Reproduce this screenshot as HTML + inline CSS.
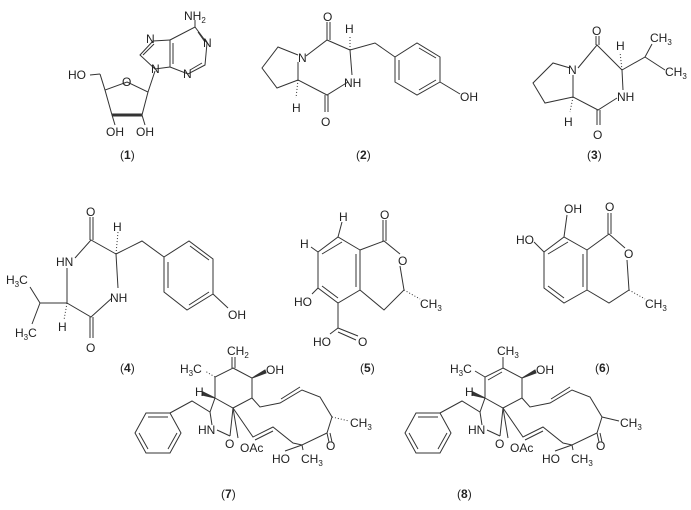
<!DOCTYPE html>
<html><head><meta charset="utf-8"><style>
html,body{margin:0;padding:0;background:#fff}
svg{display:block}
text{font-family:"Liberation Sans",sans-serif;font-size:12px;fill:#222}
.s{font-size:8px}
line,polyline,polygon{stroke:#333;stroke-width:1;fill:none}
</style></head><body>
<svg width="691" height="510" viewBox="0 0 691 510">
<!-- Compound 1 -->
<g>
<polygon points="170,40 195,27 207,43 205,65 188,74 170,67"/>
<line x1="173" y1="43" x2="173" y2="64"/><line x1="198" y1="32" x2="205" y2="42"/><line x1="190" y1="70" x2="202" y2="63"/>
<polyline points="170,40 153,41 140,55 155,69 170,67"/><line x1="143" y1="55" x2="154" y2="44"/>
<line x1="195" y1="27" x2="195" y2="20"/>
<polygon points="127,82 148,92 142,115 112,115 105,90"/>
<line x1="148" y1="92" x2="155" y2="71"/>
<line x1="142" y1="115" x2="112" y2="115" style="stroke-width:3"/>
<line x1="105" y1="90" x2="100" y2="74"/><line x1="100" y1="74" x2="90" y2="75"/>
<line x1="112" y1="115" x2="115" y2="125"/><line x1="142" y1="115" x2="145" y2="125"/>
<text x="184" y="20">NH<tspan class="s" dy="3">2</tspan></text>
<text x="146" y="43">N</text><text x="203" y="47">N</text><text x="183" y="78">N</text><text x="151" y="73">N</text>
<text x="122" y="86">O</text>
<text x="68" y="79">HO</text><text x="106" y="136">OH</text><text x="136" y="136">OH</text>
<text x="120" y="159">(<tspan font-weight="bold">1</tspan>)</text>
</g>
<!-- Compound 2 -->
<g>
<polyline points="298,80 277,88 262,68 278,47 298,55"/>
<polyline points="306,56 327,40 350,50 352,75"/>
<polyline points="348,82 327,95 298,80 298,62"/>
<line x1="327" y1="40" x2="327" y2="22"/><line x1="330" y1="40" x2="330" y2="22"/>
<line x1="325" y1="95" x2="325" y2="112"/><line x1="328" y1="95" x2="328" y2="112"/>
<line x1="298" y1="80" x2="296" y2="98" stroke-dasharray="1,2"/><line x1="350" y1="50" x2="350" y2="35" stroke-dasharray="1,2"/>
<polyline points="350,50 375,43 395,57"/>
<polygon points="395,57 395,82 417,95 440,82 440,57 417,43"/>
<line x1="399" y1="60" x2="399" y2="80"/><line x1="419" y1="90" x2="436" y2="80"/><line x1="419" y1="48" x2="436" y2="58"/>
<line x1="440" y1="82" x2="460" y2="94"/>
<text x="323" y="21">O</text><text x="298" y="62">N</text><text x="292" y="112">H</text><text x="345" y="33">H</text>
<text x="344" y="87">NH</text><text x="321" y="126">O</text><text x="460" y="101">OH</text>
<text x="356" y="159">(<tspan font-weight="bold">2</tspan>)</text>
</g>
<!-- Compound 3 -->
<g>
<polyline points="573,97 545,103 533,83 553,63 570,68"/>
<polyline points="578,68 597,45 622,70 623,90"/>
<polyline points="617,98 598,110 573,97 573,75"/>
<line x1="596" y1="45" x2="596" y2="36"/><line x1="599" y1="45" x2="599" y2="36"/>
<line x1="597" y1="110" x2="597" y2="125"/><line x1="600" y1="110" x2="600" y2="125"/>
<line x1="573" y1="97" x2="570" y2="112" stroke-dasharray="1,2"/><line x1="622" y1="70" x2="620" y2="52" stroke-dasharray="1,2"/>
<polyline points="622,70 645,57 652,44"/><line x1="645" y1="57" x2="665" y2="70"/>
<text x="592" y="35">O</text><text x="568" y="74">N</text><text x="564" y="126">H</text><text x="616" y="50">H</text>
<text x="650" y="42">CH<tspan class="s" dy="3">3</tspan></text><text x="665" y="76">CH<tspan class="s" dy="3">3</tspan></text>
<text x="617" y="101">NH</text><text x="593" y="139">O</text>
<text x="587" y="159">(<tspan font-weight="bold">3</tspan>)</text>
</g>
<!-- Compound 4 -->
<g>
<polyline points="75,258 91,240 116,254 118,288"/>
<polyline points="112,298 91,317 67,303 67,268"/>
<line x1="90" y1="240" x2="90" y2="217"/><line x1="93" y1="240" x2="93" y2="217"/>
<line x1="90" y1="317" x2="90" y2="338"/><line x1="93" y1="317" x2="93" y2="338"/>
<line x1="116" y1="254" x2="118" y2="232" stroke-dasharray="1,2"/><line x1="67" y1="303" x2="64" y2="320" stroke-dasharray="1,2"/>
<polyline points="116,254 142,241 164,257"/>
<polygon points="164,257 164,292 187,310 213,294 213,259 189,241"/>
<line x1="168" y1="262" x2="168" y2="288"/><line x1="189" y1="305" x2="209" y2="292"/><line x1="190" y1="246" x2="209" y2="260"/>
<line x1="213" y1="294" x2="228" y2="308"/>
<polyline points="67,303 40,303 30,287"/><line x1="40" y1="303" x2="32" y2="324"/>
<text x="86" y="216">O</text><text x="56" y="266">HN</text><text x="113" y="231">H</text><text x="110" y="302">NH</text>
<text x="86" y="352">O</text><text x="58" y="331">H</text><text x="228" y="319">OH</text>
<text x="6" y="284">H<tspan class="s" dy="3">3</tspan><tspan dy="-3">C</tspan></text>
<text x="15" y="337">H<tspan class="s" dy="3">3</tspan><tspan dy="-3">C</tspan></text>
<text x="120" y="372">(<tspan font-weight="bold">4</tspan>)</text>
</g>
<!-- Compound 5 -->
<g>
<polygon points="360,250 338,237 318,252 318,288 338,303 360,290"/>
<line x1="342" y1="242" x2="322" y2="254"/><line x1="322" y1="286" x2="338" y2="298"/><line x1="356" y1="254" x2="356" y2="287"/>
<polyline points="360,250 384,241 400,254"/><polyline points="400,266 404,290 384,310 360,290"/>
<line x1="383" y1="241" x2="383" y2="220"/><line x1="386" y1="241" x2="386" y2="220"/>
<line x1="404" y1="290" x2="420" y2="299" stroke-dasharray="1,2"/>
<line x1="338" y1="237" x2="342" y2="222"/><line x1="318" y1="252" x2="311" y2="247"/><line x1="318" y1="288" x2="312" y2="294"/>
<line x1="338" y1="303" x2="338" y2="328"/><line x1="338" y1="328" x2="330" y2="334"/><line x1="338" y1="328" x2="358" y2="336"/><line x1="338" y1="332" x2="356" y2="340"/>
<text x="339" y="221">H</text><text x="300" y="248">H</text><text x="380" y="219">O</text><text x="398" y="265">O</text>
<text x="420" y="308">CH<tspan class="s" dy="3">3</tspan></text><text x="294" y="306">HO</text>
<text x="313" y="346">HO</text><text x="358" y="346">O</text>
<text x="360" y="372">(<tspan font-weight="bold">5</tspan>)</text>
</g>
<!-- Compound 6 -->
<g>
<polygon points="587,250 564,237 544,252 544,288 564,303 587,290"/>
<line x1="568" y1="242" x2="548" y2="254"/><line x1="548" y1="286" x2="564" y2="298"/><line x1="583" y1="254" x2="583" y2="287"/>
<polyline points="587,250 609,234 625,248"/><polyline points="627,260 629,290 609,303 587,290"/>
<line x1="608" y1="234" x2="608" y2="213"/><line x1="611" y1="234" x2="611" y2="213"/>
<line x1="629" y1="290" x2="645" y2="299" stroke-dasharray="1,2"/>
<line x1="564" y1="237" x2="567" y2="215"/><line x1="544" y1="252" x2="534" y2="242"/>
<text x="564" y="213">OH</text><text x="516" y="244">HO</text><text x="605" y="211">O</text><text x="624" y="258">O</text>
<text x="645" y="308">CH<tspan class="s" dy="3">3</tspan></text>
<text x="595" y="372">(<tspan font-weight="bold">6</tspan>)</text>
</g>
<!-- Compound 7 -->
<g>
<polygon points="233,368 252,378 252,398 233,408 215,398 215,377"/>
<line x1="232" y1="368" x2="232" y2="357"/><line x1="235" y1="368" x2="235" y2="357"/>
<line x1="215" y1="377" x2="205" y2="371" stroke-dasharray="1,2"/>
<polygon points="252,378 265,370 266,373" style="fill:#333"/>
<polygon points="215,398 203,392 202,395" style="fill:#333"/>
<polyline points="215,398 210,412 192,401 170,413"/>
<line x1="210" y1="412" x2="212" y2="425"/>
<polygon points="146,413 170,413 181,433 170,453 146,453 135,433"/>
<line x1="148" y1="417" x2="168" y2="417"/><line x1="139" y1="433" x2="148" y2="449"/><line x1="177" y1="433" x2="168" y2="449"/>
<line x1="217" y1="430" x2="230" y2="436"/><line x1="230" y1="436" x2="233" y2="408"/>
<line x1="233" y1="408" x2="238" y2="438"/>
<polyline points="252,398 260,407 280,403 302,390 320,397 332,417 327,433 302,445 293,443 273,427 253,437 233,408"/>
<line x1="281" y1="399" x2="300" y2="387"/><line x1="273" y1="431" x2="255" y2="440"/>
<line x1="332" y1="417" x2="349" y2="421" stroke-dasharray="1,2"/>
<line x1="327" y1="433" x2="329" y2="442"/><line x1="330" y1="433" x2="332" y2="442"/>
<line x1="302" y1="445" x2="303" y2="450"/><line x1="302" y1="445" x2="285" y2="451"/>
<text x="227" y="355">CH<tspan class="s" dy="3">2</tspan></text>
<text x="180" y="373">H<tspan class="s" dy="3">3</tspan><tspan dy="-3">C</tspan></text>
<text x="266" y="374">OH</text><text x="195" y="396">H</text>
<text x="198" y="434">HN</text><text x="225" y="448">O</text><text x="240" y="452">OAc</text>
<text x="272" y="463">HO</text><text x="301" y="463">CH<tspan class="s" dy="3">3</tspan></text>
<text x="326" y="450">O</text><text x="350" y="427">CH<tspan class="s" dy="3">3</tspan></text>
<text x="221" y="498">(<tspan font-weight="bold">7</tspan>)</text>
</g>
<!-- Compound 8 -->
<g transform="translate(270,0)">
<polygon points="233,368 252,378 252,398 233,408 215,398 215,377"/>
<line x1="218" y1="380" x2="232" y2="372"/>
<line x1="233" y1="368" x2="233" y2="357"/>
<line x1="215" y1="377" x2="205" y2="371"/>
<polygon points="252,378 265,370 266,373" style="fill:#333"/>
<polygon points="215,398 203,392 202,395" style="fill:#333"/>
<polyline points="215,398 210,412 192,401 170,413"/>
<line x1="210" y1="412" x2="212" y2="425"/>
<polygon points="146,413 170,413 181,433 170,453 146,453 135,433"/>
<line x1="148" y1="417" x2="168" y2="417"/><line x1="139" y1="433" x2="148" y2="449"/><line x1="177" y1="433" x2="168" y2="449"/>
<line x1="217" y1="430" x2="230" y2="436"/><line x1="230" y1="436" x2="233" y2="408"/>
<line x1="233" y1="408" x2="238" y2="438"/>
<polyline points="252,398 260,407 280,403 302,390 320,397 332,417 327,433 302,445 293,443 273,427 253,437 233,408"/>
<line x1="281" y1="399" x2="300" y2="387"/><line x1="273" y1="431" x2="255" y2="440"/>
<line x1="332" y1="417" x2="349" y2="421"/>
<line x1="327" y1="433" x2="329" y2="442"/><line x1="330" y1="433" x2="332" y2="442"/>
<line x1="302" y1="445" x2="303" y2="450"/><line x1="302" y1="445" x2="285" y2="451"/>
<text x="227" y="355">CH<tspan class="s" dy="3">3</tspan></text>
<text x="180" y="373">H<tspan class="s" dy="3">3</tspan><tspan dy="-3">C</tspan></text>
<text x="266" y="374">OH</text><text x="195" y="396">H</text>
<text x="198" y="434">HN</text><text x="225" y="448">O</text><text x="240" y="452">OAc</text>
<text x="272" y="463">HO</text><text x="301" y="463">CH<tspan class="s" dy="3">3</tspan></text>
<text x="326" y="450">O</text><text x="350" y="427">CH<tspan class="s" dy="3">3</tspan></text>
</g>
<text x="457" y="498">(<tspan font-weight="bold">8</tspan>)</text>
</svg>
</body></html>
